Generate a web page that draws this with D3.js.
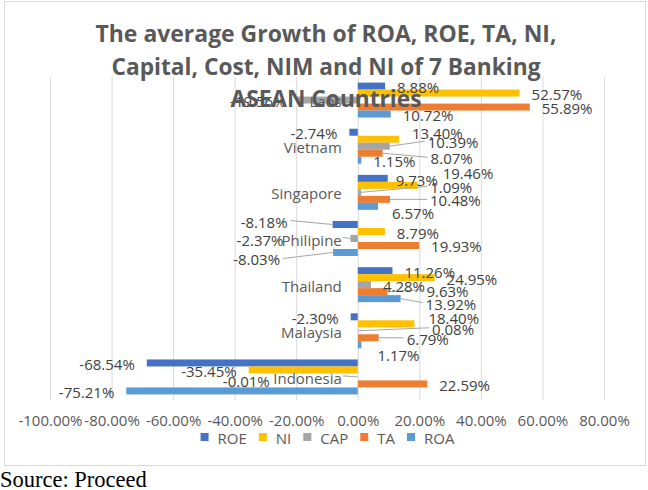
<!DOCTYPE html>
<html>
<head>
<meta charset="utf-8">
<script src="https://cdn.jsdelivr.net/npm/d3@7"></script>
<style>
  body { margin: 0; background: #fff; }
  text { font-family: "Open Sans", sans-serif; }
</style>
</head>
<body>
<div id="chart"></div>
<script>
////////////////data//////////////////
var countries = ["Laos", "Vietnam", "Singapore", "Philipine", "Thailand", "Malaysia", "Indonesia"];
var seriesNames = ["ROE", "NI", "CAP", "TA", "ROA"];

// growth in %, one value per country (same order as countries)
var roe = [8.88, -2.74, 9.73, -8.18, 11.26, -2.30, -68.54];
var ni  = [52.57, 13.40, 19.46, 8.79, 24.95, 18.40, -35.45];
var cap = [-19.56, 10.39, 1.09, -2.37, 4.28, 0.08, -0.01];
var ta  = [55.89, 8.07, 10.48, 19.93, 9.63, 6.79, 22.59];
var roa = [10.72, 1.15, 6.57, -8.03, 13.92, 1.17, -75.21];

var tickValues = [-100, -80, -60, -40, -20, 0, 20, 40, 60, 80];
var tickLabels = ["-100.00%", "-80.00%", "-60.00%", "-40.00%", "-20.00%",
                  "0.00%", "20.00%", "40.00%", "60.00%", "80.00%"];

var titleLines = ["The average Growth of ROA, ROE, TA, NI,",
                  "Capital, Cost, NIM and NI of 7 Banking",
                  "ASEAN Countries"];

////////////////basic layout//////////////////
var W = 648, H = 490;
var plot = {left: 50, right: 604, top: 77, bottom: 400};
var colors = {ROE: "#4472C4", NI: "#FFC000", CAP: "#A5A5A5", TA: "#ED7D31", ROA: "#5B9BD5"};

// manual label moves (like dragged labels in Excel): [dx, dy, leader]
var labelMove = {
  "Vietnam|NI": [1, -7], "Vietnam|CAP": [26, -5, 1], "Vietnam|TA": [36, 4, 1],
  "Singapore|ROE": [-4, 1], "Singapore|NI": [13, -13], "Singapore|CAP": [57, -6, 1],
  "Singapore|TA": [28, 0, 1], "Singapore|ROA": [2, 6],
  "Philipine|ROE": [-33, -4, 1], "Philipine|CAP": [-55, 0, "cat"], "Philipine|ROA": [-41, 6, 1],
  "Thailand|TA": [27, -2, 1], "Thailand|ROA": [13, 4, 1],
  "Malaysia|NI": [2, -7], "Malaysia|CAP": [62, -3, 1], "Malaysia|TA": [16, 0, 1], "Malaysia|ROA": [4, 9],
  "Indonesia|CAP": [-76, 3, "cat"]
};

var svg = d3.select("#chart")
  .append("svg")
    .attr("width", W)
    .attr("height", H);

svg.append("rect")
  .attr("x", 4.5).attr("y", 1.5)
  .attr("width", 641).attr("height", 464)
  .attr("fill", "#fff")
  .attr("stroke", "#D9D9D9");

// build rows from the arrays
var valuesBySeries = {ROE: roe, NI: ni, CAP: cap, TA: ta, ROA: roa};
var rows = [];
countries.forEach(function(c, i) {
  seriesNames.forEach(function(s) {
    rows.push({country: c, series: s, value: valuesBySeries[s][i]});
  });
});

// scales
var x = d3.scaleLinear()
  .domain([-100, 80])
  .range([plot.left, plot.right]);

var y0 = d3.scaleBand()
  .domain(countries)
  .range([plot.top, plot.bottom]);

var y1 = d3.scaleBand()
  .domain(seriesNames)
  .range([0, y0.bandwidth()])
  .paddingOuter(0.8);

// gridlines + x tick labels
var xAxis = svg.append("g")
  .attr("transform", "translate(0," + plot.bottom + ")")
  .call(d3.axisBottom(x)
    .tickValues(tickValues)
    .tickSize(-(plot.bottom - plot.top))
    .tickPadding(15)
    .tickFormat(function(d, i) { return tickLabels[i]; }));
xAxis.select(".domain").remove();
xAxis.selectAll("line").attr("stroke", "#D9D9D9");
xAxis.selectAll("text")
  .attr("fill", "#595959")
  .style("font-size", "15px")
  .style("font-family", "Open Sans");

// bars
svg.append("g").selectAll("rect")
  .data(rows)
  .enter()
  .append("rect")
    .attr("x", function(d) { return x(Math.min(0, d.value)); })
    .attr("y", function(d) { return y0(d.country) + y1(d.series); })
    .attr("width", function(d) { return Math.abs(x(d.value) - x(0)); })
    .attr("height", y1.bandwidth())
    .attr("fill", function(d) { return colors[d.series]; });

// data labels
function labelPos(d) {
  var m = labelMove[d.country + "|" + d.series] || [0, 0];
  var pos = d.value >= 0;
  var yc = y0(d.country) + y1(d.series) + y1.bandwidth() / 2;
  return {
    x: x(d.value) + (pos ? 12 : -12) + m[0],
    y: yc + 1 + m[1],
    anchor: pos ? "start" : "end",
    barX: x(d.value), barY: yc, leader: m[2]
  };
}

var catLabelEnd = x(0) - 16;

svg.append("g").selectAll("line")
  .data(rows.filter(function(d) { return labelPos(d).leader; }))
  .enter()
  .append("line")
    .attr("x1", function(d) { return labelPos(d).barX; })
    .attr("y1", function(d) { return labelPos(d).barY; })
    .attr("x2", function(d) {
      var p = labelPos(d);
      if (p.leader === "cat") return catLabelEnd + 1;
      return p.anchor === "start" ? p.x - 3 : p.x + 3;
    })
    .attr("y2", function(d) { var p = labelPos(d); return p.leader === "cat" ? p.barY - 1 : p.y - 1; })
    .attr("stroke", "#A6A6A6")
    .attr("stroke-width", 1);

svg.append("g").selectAll("text")
  .data(rows)
  .enter()
  .append("text")
    .attr("x", function(d) { return labelPos(d).x; })
    .attr("y", function(d) { return labelPos(d).y; })
    .attr("text-anchor", function(d) { return labelPos(d).anchor; })
    .attr("dominant-baseline", "central")
    .attr("font-size", "15px")
    .attr("fill", "#404040")
    .text(function(d) { return d.value.toFixed(2) + "%"; });

// category labels
svg.append("g").selectAll("text")
  .data(countries)
  .enter()
  .append("text")
    .attr("x", catLabelEnd)
    .attr("y", function(d) { return y0(d) + y0.bandwidth() / 2 + 1; })
    .attr("text-anchor", "end")
    .attr("dominant-baseline", "central")
    .attr("font-size", "15px")
    .attr("fill", "#595959")
    .text(function(d) { return d; });

// legend
var legend = svg.append("g");
var lx = 0;
seriesNames.forEach(function(s) {
  var item = legend.append("g").attr("transform", "translate(" + lx + ",0)");
  item.append("rect")
    .attr("x", 0).attr("y", 433)
    .attr("width", 8).attr("height", 8)
    .attr("fill", colors[s]);
  var t = item.append("text")
    .attr("x", 17).attr("y", 437.5)
    .attr("dominant-baseline", "central")
    .attr("font-size", "15px")
    .attr("fill", "#595959")
    .text(s);
  lx += 17 + t.node().getComputedTextLength() + 12;
});
legend.attr("transform", "translate(" + (327.5 - (lx - 12) / 2) + ",0)");

// title (drawn last, it sits over the top bars like in the original)
var titleWidths = [461, 429, 191];
var titleBase = [42, 74.5, 107];
titleLines.forEach(function(line, i) {
  svg.append("text")
    .attr("x", 326)
    .attr("y", titleBase[i])
    .attr("text-anchor", "middle")
    .attr("font-size", "24px")
    .attr("font-weight", "bold")
    .attr("fill", "#595959")
    .attr("textLength", titleWidths[i])
    .attr("lengthAdjust", "spacingAndGlyphs")
    .text(line);
});

// source note under the chart
svg.append("text")
  .attr("x", 0)
  .attr("y", 487)
  .attr("font-size", "22.5px")
  .style("font-family", "'Liberation Serif', serif")
  .attr("fill", "#000")
  .text("Source: Proceed");
</script>
</body>
</html>
